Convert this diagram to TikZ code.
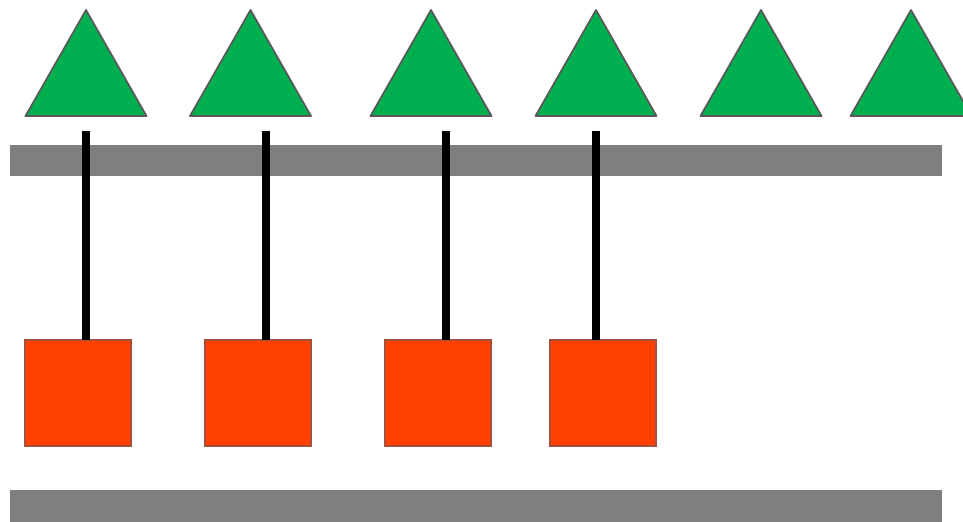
\documentclass[tikz,border=0pt]{standalone}
\usetikzlibrary{positioning}
\begin{document}
\begin{tikzpicture}[x=0.02cm, y=-0.02cm,
    block/.style={draw=blockBorder, fill=blockFill, line width=1pt, minimum size=2.12cm, inner sep=0pt, outer sep=0pt, anchor=north west},
    rod/.style={line width=4.6pt, black}]

    \definecolor{triFill}{HTML}{00B050}
    \definecolor{triBorder}{HTML}{595959}
    \definecolor{blockFill}{HTML}{FF4000}
    \definecolor{blockBorder}{HTML}{A5503C}
    \definecolor{railColour}{HTML}{7F7F7F}

    \useasboundingbox (0,0) rectangle (963,521);

    % Rails
    \fill[railColour] (10,145) rectangle (942,176);
    \fill[railColour] (10,490) rectangle (942,530);

    % Triangles
    \foreach \x in {86, 250.5, 431, 596, 761, 911}
        \filldraw[fill=triFill, draw=triBorder, line width=1pt, line join=round]
            (\x-60.5,116) -- (\x,10) -- (\x+60.5,116) -- cycle;

    % Blocks and rods
    \foreach \i/\bx/\rx in {1/25/86, 2/205/266, 3/385/446, 4/550/596} {
        \node[block] (S\i) at (\bx,340) {};
        \coordinate (R\i) at (\rx,131);
        \draw[rod] (R\i) -- (R\i |- S\i.north);
    }

\end{tikzpicture}
\end{document}
